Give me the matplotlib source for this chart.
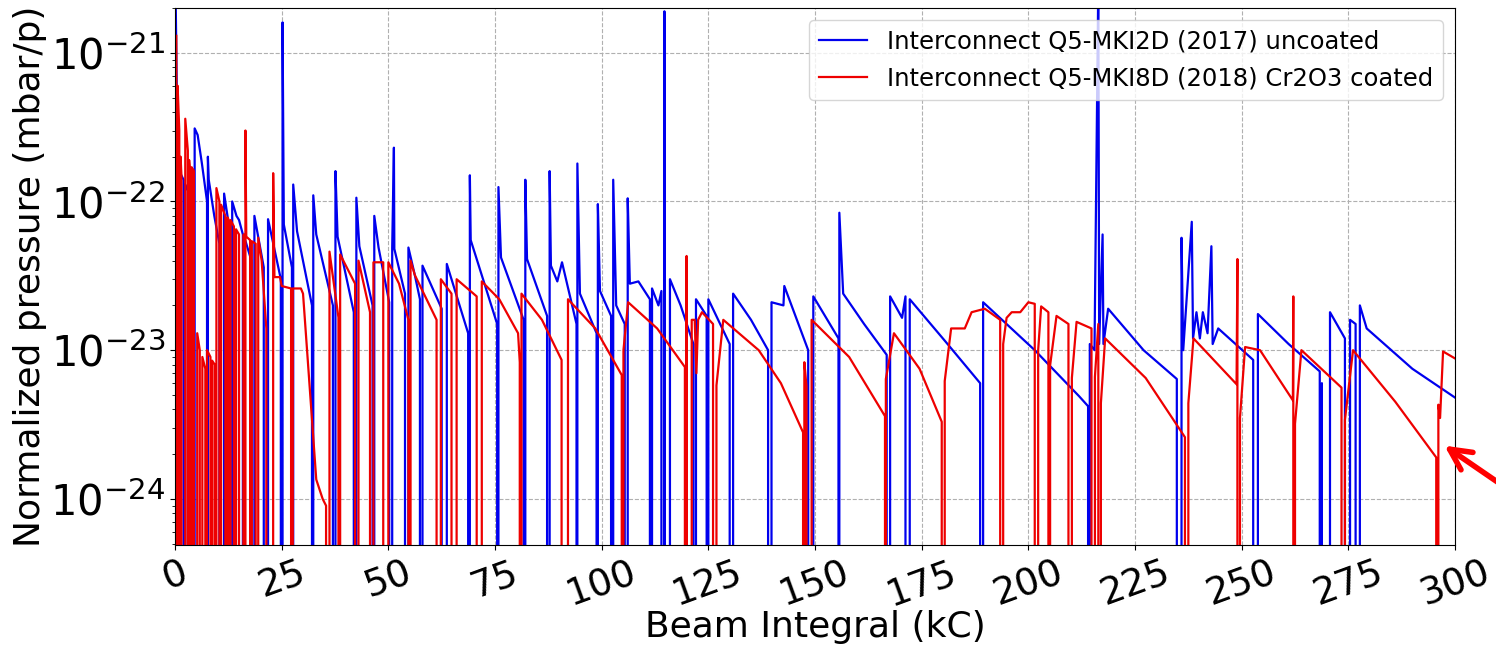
import matplotlib
matplotlib.use("Agg")
import matplotlib.pyplot as plt

# beam integral (kC) and normalized pressure (mbar/p); 0 = beam dump (drops off the log axis)
blue_x = [0.1, 0.4, 1.0, 2.0, 2.1, 2.4, 4.2, 4.3, 4.6, 5.3, 6.3, 7.5, 7.6, 7.7, 7.9, 9.2, 10.4, 10.5,
          11.5, 12.8, 12.9, 13.4, 14.4, 15.0, 15.9, 16.0, 16.2, 17.9, 18.0, 18.6, 20.8, 20.9, 21.8,
          24.8, 24.9, 25.2, 25.5, 27.4, 27.6, 27.7, 28.6, 32.1, 32.3, 32.4, 33.1, 37.0, 37.2, 37.6,
          38.1, 41.9, 42.1, 42.5, 43.2, 46.3, 46.5, 46.7, 47.7, 50.2, 50.4, 50.9, 51.3, 51.4, 53.9,
          54.1, 54.7, 56.2, 57.4, 57.5, 58.0, 62.5, 62.8, 63.7, 68.7, 68.9, 69.1, 69.3, 75.5, 75.6,
          75.8, 76.4, 81.7, 81.9, 82.1, 82.5, 87.2, 87.5, 87.8, 88.1, 89.6, 90.7, 94.1, 94.2, 94.3,
          94.9, 98.8, 98.9, 99.1, 99.6, 102.2, 102.5, 102.7, 103.4, 105.4, 105.6, 106.1, 106.6, 108.6,
          111.3, 111.5, 111.8, 113.3, 114.0, 114.5, 114.7, 115.0, 116.0, 118.5, 121.5, 121.7, 122.1,
          124.6, 124.8, 125.0, 130.0, 130.1, 130.8, 135.0, 139.0, 139.2, 139.8, 142.6, 142.8, 148.4,
          148.6, 149.6, 155.5, 155.6, 155.7, 156.6, 161.5, 166.8, 167.0, 167.6, 170.4, 171.2, 171.6,
          172.2, 180.5, 188.7, 188.9, 189.4, 201.5, 211.9, 214.0, 214.1, 214.4, 215.5, 216.4, 216.6,
          217.4, 217.6, 218.7, 227.0, 234.8, 235.8, 235.9, 236.3, 238.3, 238.6, 239.4, 240.2, 240.9,
          242.0, 242.9, 243.2, 244.5, 252.7, 252.9, 253.8, 261.0, 268.3, 268.4, 268.8, 269.0, 270.7,
          274.2, 274.3, 275.4, 276.7, 276.8, 277.7, 279.3, 290.0, 300.0]
blue_p = [3e-21, 6e-22, 1.6e-22, 1.4e-22, 0, 1.3e-22, 1.0e-22, 0, 3.1e-22, 2.8e-22, 1.8e-22, 1.0e-22,
          0, 2e-22, 1.4e-22, 8e-23, 5.2e-23, 0, 1.13e-22, 6.4e-23, 0, 1.0e-22, 8e-23, 7.5e-23, 6e-23,
          0, 5.8e-23, 4e-23, 0, 8e-23, 3.6e-23, 0, 7.6e-23, 3e-23, 0, 1.6e-21, 7e-23, 3.6e-23, 0,
          1.3e-22, 6.3e-23, 2e-23, 0, 1.1e-22, 6e-23, 2e-23, 0, 1.6e-22, 5.8e-23, 1.8e-23, 0, 1.06e-22,
          5e-23, 2e-23, 0, 8e-23, 4.9e-23, 2.1e-23, 0, 4.9e-23, 2.3e-22, 4.8e-23, 2.4e-23, 0, 4.9e-23,
          3.2e-23, 2.2e-23, 0, 3.7e-23, 1.9e-23, 0, 3.8e-23, 1.3e-23, 0, 1.5e-22, 5.5e-23, 1.5e-23, 0,
          1.25e-22, 4.2e-23, 1.6e-23, 0, 1.4e-22, 4.1e-23, 1.7e-23, 0, 1.6e-22, 3.7e-23, 2.9e-23,
          3.9e-23, 1.5e-23, 0, 1.8e-22, 2.4e-23, 1.3e-23, 0, 9.6e-23, 2.5e-23, 1.7e-23, 0, 1.4e-22,
          2.0e-23, 1.5e-23, 0, 1.05e-22, 2.8e-23, 2.9e-23, 2.2e-23, 0, 2.6e-23, 2.0e-23, 2.5e-23, 0,
          1.9e-21, 0, 3e-23, 2e-23, 1.1e-23, 0, 2.2e-23, 1.7e-23, 0, 2.2e-23, 1.1e-23, 0, 2.4e-23,
          1.6e-23, 1e-23, 0, 2.1e-23, 2.0e-23, 2.7e-23, 1e-23, 0, 2.3e-23, 1.2e-23, 0, 8.4e-23,
          2.4e-23, 1.5e-23, 9.3e-24, 0, 2.3e-23, 1.65e-23, 2.3e-23, 0, 2.2e-23, 1.15e-23, 6e-24, 0,
          2.1e-23, 1.0e-23, 4.9e-24, 4.2e-24, 0, 1.1e-23, 1.0e-23, 3e-21, 1.1e-23, 6e-23, 1.1e-23,
          1.9e-23, 1.0e-23, 6.4e-24, 0, 5.7e-23, 1.0e-23, 7.3e-23, 1.2e-23, 1.8e-23, 1.2e-23, 1.8e-23,
          1.3e-23, 5e-23, 1.1e-23, 1.4e-23, 8.6e-24, 0, 1.75e-23, 1.1e-23, 7.2e-24, 0, 6e-24, 0,
          1.8e-23, 1.2e-23, 0, 1.6e-23, 1.5e-23, 0, 2e-23, 1.4e-23, 7.5e-24, 4.8e-24]

red_x = [0.3, 0.5, 0.6, 1.0, 1.2, 1.3, 1.5, 1.6, 2.4, 3.0, 3.2, 3.3, 3.5, 3.6, 3.9, 4.1, 4.2, 4.4,
         4.6, 5.2, 5.8, 6.2, 6.4, 7.1, 7.3, 7.5, 8.3, 8.5, 8.7, 9.3, 9.5, 9.7, 10.4, 10.6, 10.8,
         11.8, 12.0, 12.3, 12.5, 12.7, 13.0, 13.8, 14.0, 14.3, 15.0, 15.4, 16.1, 16.3, 16.5, 16.7,
         17.6, 17.8, 18.0, 18.9, 19.1, 19.5, 20.3, 21.4, 21.6, 23.0, 23.3, 24.6, 25.0, 27.2, 27.4,
         27.6, 29.5, 30.0, 31.5, 33.1, 34.6, 35.4, 35.5, 36.2, 38.3, 38.5, 38.7, 42.2, 42.4, 43.0,
         45.7, 45.9, 46.5, 48.8, 49.2, 50.0, 52.5, 54.7, 54.9, 55.2, 56.2, 61.3, 61.5, 62.3, 64.8,
         65.1, 66.0, 70.7, 71.1, 71.9, 76.0, 80.4, 80.8, 80.9, 81.2, 86.0, 90.6, 90.9, 92.1, 98.5,
         104.7, 104.8, 105.1, 106.2, 113.0, 119.5, 119.6, 119.9, 120.0, 121.1, 121.8, 122.2, 122.6,
         123.5, 126.1, 126.3, 126.9, 128.5, 136.8, 142.0, 147.2, 147.3, 147.5, 148.0, 148.8, 149.2,
         158.0, 166.4, 166.5, 166.6, 168.5, 174.5, 179.7, 179.8, 180.4, 181.9, 185.1, 186.7, 189.8,
         193.4, 193.6, 194.1, 194.9, 196.1, 198.1, 200.0, 201.5, 201.8, 202.3, 203.0, 204.7, 204.9,
         205.1, 206.6, 209.4, 209.7, 210.2, 211.3, 214.8, 215.1, 215.6, 216.4, 216.5, 217.0, 218.0,
         227.5, 236.7, 236.8, 237.5, 238.7, 248.8, 249.0, 249.1, 249.6, 250.8, 254.3, 262.0, 262.1,
         262.2, 262.5, 264.0, 273.4, 273.5, 274.2, 276.1, 286.0, 295.6, 295.7, 296.1, 296.5, 297.2,
         300.0]
red_p = [1.3e-21, 0, 6e-22, 3e-22, 0, 2e-22, 1.5e-22, 0, 3.6e-22, 2.2e-22, 0, 1.9e-22, 1.6e-22, 0,
         1.7e-22, 0, 1.65e-22, 1.6e-22, 0, 1.3e-23, 1e-23, 0, 9e-24, 7.5e-24, 0, 1e-23, 9e-24, 0,
         8.5e-24, 8e-24, 0, 1.23e-22, 1e-22, 0, 9.5e-23, 8e-23, 0, 7.8e-23, 7.6e-23, 0, 7.5e-23,
         6.8e-23, 0, 6.5e-23, 6e-23, 0, 6e-23, 0, 3e-22, 5.8e-23, 5.5e-23, 0, 5.4e-23, 5.2e-23, 0,
         5.7e-23, 4e-23, 1.4e-23, 0, 1.55e-22, 3.1e-23, 3.1e-23, 2.7e-23, 2.6e-23, 0, 2.6e-23,
         2.6e-23, 2.4e-23, 6e-24, 1.35e-24, 1e-24, 9e-25, 0, 4.6e-23, 1.66e-23, 0, 4.4e-23, 2.8e-23,
         0, 4e-23, 1.8e-23, 0, 3.9e-23, 3.9e-23, 0, 3.9e-23, 2.8e-23, 1.6e-23, 0, 4e-23, 3.2e-23,
         1.6e-23, 0, 3e-23, 2.4e-23, 0, 3e-23, 2.3e-23, 0, 2.9e-23, 2.2e-23, 1.3e-23, 8.3e-24, 0,
         2.4e-23, 1.6e-23, 8.6e-24, 0, 2.2e-23, 1.4e-23, 6.8e-24, 0, 1e-23, 2.1e-23, 1.4e-23, 7.7e-24,
         0, 4.3e-23, 0, 1.6e-23, 1.6e-23, 7e-24, 1.6e-23, 1.8e-23, 1.5e-23, 0, 5.8e-24, 1.6e-23,
         1e-23, 6e-24, 2.8e-24, 0, 8.3e-24, 5.7e-24, 0, 1.6e-23, 9e-24, 3.6e-24, 0, 6.4e-24, 1.3e-23,
         7.5e-24, 3.3e-24, 0, 6.2e-24, 1.4e-23, 1.4e-23, 1.8e-23, 1.9e-23, 1.6e-23, 0, 1.1e-23,
         1.65e-23, 1.8e-23, 1.8e-23, 2.1e-23, 2.05e-23, 0, 1e-23, 1.97e-23, 1.8e-23, 0, 7.9e-24,
         1.7e-23, 1.5e-23, 0, 6.5e-24, 1.55e-23, 1.4e-23, 0, 6.6e-24, 1.5e-23, 0, 4.4e-24, 1.2e-23,
         6.5e-24, 2.6e-24, 0, 4.4e-24, 1.2e-23, 5.9e-24, 4.1e-23, 0, 3.5e-24, 1.05e-23, 1.0e-23,
         4.6e-24, 2.3e-23, 0, 3.2e-24, 1.0e-23, 5.6e-24, 0, 3.4e-24, 1e-23, 4.5e-24, 1.9e-24, 0,
         4.3e-24, 3.5e-24, 9.8e-24, 8.8e-24]

x_ticks = list(range(0, 301, 25))
y_ticks = [1e-24, 1e-23, 1e-22, 1e-21]

fig = plt.figure(figsize=(14.96, 6.55), dpi=100)
ax = fig.add_axes([0.117, 0.168, 0.8556, 0.8198])

ax.plot(blue_x, blue_p, color='#0000ee', lw=1.6,
        label='Interconnect Q5-MKI2D (2017) uncoated')
ax.plot(red_x, red_p, color='#ee0000', lw=1.6,
        label='Interconnect Q5-MKI8D (2018) Cr2O3 coated')

ax.set_yscale('log', nonpositive='clip')
ax.set_ylim(4.9e-25, 2e-21)
ax.set_yticks(y_ticks)
ax.set_xlim(0, 300)
ax.set_xticks(x_ticks)
ax.tick_params(axis='y', which='major', labelsize=30)
ax.tick_params(axis='x', which='major', labelsize=27)
plt.setp(ax.get_xticklabels(), rotation=20)
ax.grid(True, which='major', color='#b0b0b0', linestyle='--', linewidth=0.8)

ax.set_xlabel('Beam Integral (kC)', fontsize=26, labelpad=-2)
ax.set_ylabel('Normalized pressure (mbar/p)', fontsize=26, labelpad=2)
ax.legend(loc='upper right', fontsize=17.5)

# red arrow at the right edge pointing at the last red decay
ax.annotate('', xy=(0.964, 0.322), xycoords='figure fraction',
            xytext=(1.01, 0.25), textcoords='figure fraction',
            arrowprops=dict(arrowstyle='->', color='red', lw=4, mutation_scale=38),
            annotation_clip=False)

fig.savefig('out.png', dpi=100)
